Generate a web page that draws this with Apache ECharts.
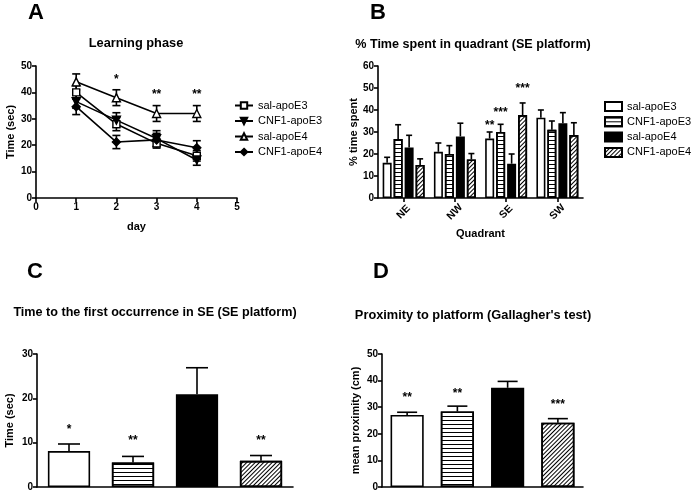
<!DOCTYPE html>
<html><head><meta charset="utf-8">
<script src="https://cdn.jsdelivr.net/npm/echarts@6/dist/echarts.min.js"></script>
<style>html,body{margin:0;padding:0;background:#fff}#c{width:692px;height:494px}</style>
</head><body><div id="c"></div>
<script>
// ---------- DATA ----------
const groups = ['sal-apoE3', 'CNF1-apoE3', 'sal-apoE4', 'CNF1-apoE4'];
// Panel A: Learning phase
const days = [1, 2, 3, 4];
const aSalE3 = [40, 28, 20.7, 16];
const aSalE3Err = [2.5, 2.5, 1.8, 2];
const aCnfE3 = [36.5, 29.5, 22.5, 14.4];
const aCnfE3Err = [2.5, 2.8, 3, 2];
const aSalE4 = [44, 38, 32, 32];
const aSalE4Err = [3, 3, 3, 3];
const aCnfE4 = [34.6, 21.2, 22, 19];
const aCnfE4Err = [3, 2.5, 2.5, 2.7];
const aStarDay = [2, 3, 4];
const aStarText = ['*', '**', '**'];
const aStarY = [44.7, 39.3, 39.3];
// Panel B: % time spent in quadrant
const quadrants = ['NE', 'NW', 'SE', 'SW'];
const bSalE3 = [16, 21, 27, 36.5];
const bSalE3Err = [2.5, 4, 3, 3.5];
const bCnfE3 = [26.8, 20, 30, 31];
const bCnfE3Err = [6.5, 3.8, 3.5, 4];
const bSalE4 = [23, 28, 15.6, 34];
const bSalE4Err = [5.5, 6, 4.4, 4.8];
const bCnfE4 = [15, 17.5, 37.7, 28.6];
const bCnfE4Err = [2.8, 2.7, 5.5, 5.6];
const bStarQuad = [2, 2, 2];
const bStarGroup = [0, 1, 3];
const bStarText = ['**', '***', '***'];
const bStarY = [32.7, 39, 49.5];
// Panel C: time to first occurrence
const cValues = [8.1, 5.5, 20.9, 5.9];
const cErr = [1.6, 1.4, 6, 1.2];
const cStarText = ['*', '**', '', '**'];
const cStarY = [12.9, 10.4, 0, 10.5];
// Panel D: proximity
const dValues = [27.1, 28.4, 37.3, 24.2];
const dErr = [1.0, 2.0, 2.4, 1.5];
const dStarText = ['**', '**', '', '***'];
const dStarY = [33.4, 35, 0, 31];

// ---------- STYLE ----------
const FF = '"Liberation Sans", Arial, sans-serif';
const K = '#000';
const stripeDecal = { symbol: 'rect', symbolSize: 1, dashArrayX: [1, 0], dashArrayY: [1, 2.2], rotation: 0, color: '#000' };
const hatchDecal = { symbol: 'rect', symbolSize: 1, dashArrayX: [1, 0], dashArrayY: [1, 1.4], rotation: -Math.PI / 4, color: '#000' };
const barStyles = [
  { color: '#fff', borderColor: K, borderWidth: 1.6 },
  { color: '#fff', borderColor: K, borderWidth: 1.6, decal: stripeDecal },
  { color: '#000', borderColor: K, borderWidth: 1.6 },
  { color: '#fff', borderColor: K, borderWidth: 1.6, decal: hatchDecal }
];

function yAxis(gi, max, name, gap) {
  return {
    type: 'value', gridIndex: gi, min: 0, max: max, interval: 10, name: name,
    nameLocation: 'middle', nameGap: gap,
    nameTextStyle: { fontFamily: FF, fontWeight: 'bold', fontSize: 11, color: K },
    axisLine: { show: true, lineStyle: { color: K, width: 1.6 } },
    axisTick: { show: true, length: 4, lineStyle: { color: K, width: 1.6 } },
    axisLabel: { fontFamily: FF, fontWeight: 'bold', fontSize: 10, color: K, margin: 4 },
    splitLine: { show: false }
  };
}

function errRender(capHalf, step, both) {
  return function (params, api) {
    const cat = api.value(0), v = api.value(1), e = api.value(2), g = api.value(3);
    const p = api.coord([cat, v]);
    const t = api.coord([cat, v + e]);
    const x = p[0] + (step ? (g - 1.5) * step : 0);
    const b = both ? api.coord([cat, v - e])[1] : p[1];
    const st = { stroke: K, lineWidth: 1.6 };
    const ch = [
      { type: 'line', shape: { x1: x, y1: b, x2: x, y2: t[1] }, style: st },
      { type: 'line', shape: { x1: x - capHalf, y1: t[1], x2: x + capHalf, y2: t[1] }, style: st }
    ];
    if (both) ch.push({ type: 'line', shape: { x1: x - capHalf, y1: b, x2: x + capHalf, y2: b }, style: st });
    return { type: 'group', children: ch };
  };
}
function starRender(step) {
  return function (params, api) {
    const cat = api.value(0), y = api.value(1), g = api.value(2);
    const p = api.coord([cat, y]);
    const x = p[0] + (step ? (g - 1.5) * step : 0);
    const txt = api.value(3);
    return { type: 'text', x: x, y: p[1], style: { text: String(txt), textAlign: 'center', textVerticalAlign: 'middle', font: 'bold 12px ' + FF, fill: K } };
  };
}

const series = [];
// A lines
const aSets = [
  [aSalE3, aSalE3Err, 'rect', 0, '#fff'],
  [aCnfE3, aCnfE3Err, 'triangle', 180, '#000'],
  [aSalE4, aSalE4Err, 'triangle', 0, '#fff'],
  [aCnfE4, aCnfE4Err, 'diamond', 0, '#000']
];
aSets.forEach(function (s, i) {
  series.push({
    type: 'line', name: groups[i], xAxisIndex: 0, yAxisIndex: 0,
    data: days.map(function (d, j) { return [d, s[0][j]]; }),
    symbol: s[2], symbolRotate: s[3], symbolSize: s[2] === 'rect' ? 7 : 8,
    lineStyle: { color: K, width: 1.6 },
    itemStyle: { color: s[4], borderColor: K, borderWidth: 1.4 },
    z: 3, animation: false
  });
  series.push({
    type: 'custom', xAxisIndex: 0, yAxisIndex: 0, renderItem: errRender(4, 0, true),
    data: days.map(function (d, j) { return [d, s[0][j], s[1][j], 0]; }), z: 2, animation: false
  });
});
series.push({
  type: 'custom', xAxisIndex: 0, yAxisIndex: 0, renderItem: starRender(0),
  data: aStarDay.map(function (d, j) { return [d, aStarY[j], 0, aStarText[j]]; }), animation: false
});
// B bars
const bSets = [[bSalE3, bSalE3Err], [bCnfE3, bCnfE3Err], [bSalE4, bSalE4Err], [bCnfE4, bCnfE4Err]];
bSets.forEach(function (s, i) {
  series.push({
    type: 'bar', name: groups[i] + ' ', xAxisIndex: 1, yAxisIndex: 1, data: s[0],
    barWidth: 9, barGap: '22%', itemStyle: barStyles[i], animation: false
  });
});
const bErrData = [];
bSets.forEach(function (s, i) { quadrants.forEach(function (q, j) { bErrData.push([j, s[0][j], s[1][j], i]); }); });
series.push({ type: 'custom', xAxisIndex: 1, yAxisIndex: 1, renderItem: errRender(3, 11, false), data: bErrData, animation: false });
series.push({
  type: 'custom', xAxisIndex: 1, yAxisIndex: 1, renderItem: starRender(11),
  data: bStarQuad.map(function (q, j) { return [q, bStarY[j], bStarGroup[j], bStarText[j]]; }), animation: false
});
// C and D bars
function singleBars(ax, vals, errs, cap, stars, starY) {
  series.push({
    type: 'bar', xAxisIndex: ax, yAxisIndex: ax, barWidth: '66%',
    data: vals.map(function (v, i) { return { value: v, itemStyle: barStyles[i] }; }), animation: false
  });
  series.push({
    type: 'custom', xAxisIndex: ax, yAxisIndex: ax, renderItem: errRender(cap, 0, false),
    data: vals.map(function (v, i) { return [i, v, errs[i], 0]; }), animation: false
  });
  series.push({
    type: 'custom', xAxisIndex: ax, yAxisIndex: ax, renderItem: starRender(0),
    data: stars.map(function (t, i) { return [i, starY[i], 0, t]; }), animation: false
  });
}
singleBars(2, cValues, cErr, 11, cStarText, cStarY);
singleBars(3, dValues, dErr, 10, dStarText, dStarY);

function txt(t, x, y, size) {
  return { type: 'text', x: x, y: y, style: { text: t, textAlign: 'center', textVerticalAlign: 'middle', font: 'bold ' + size + 'px ' + FF, fill: K } };
}

const catAxisBase = {
  axisLine: { lineStyle: { color: K, width: 1.6 } },
  splitLine: { show: false }
};

const option = {
  animation: false,
  backgroundColor: '#fff',
  grid: [
    { left: 36, top: 66, width: 201, height: 132 },
    { left: 378, top: 66, width: 205, height: 132 },
    { left: 37, top: 354, width: 256, height: 133 },
    { left: 382, top: 354, width: 201, height: 133 }
  ],
  xAxis: [
    {
      type: 'value', gridIndex: 0, min: 0, max: 5, interval: 1, name: 'day', nameLocation: 'middle', nameGap: 23,
      nameTextStyle: { fontFamily: FF, fontWeight: 'bold', fontSize: 11, color: K },
      axisLine: { show: true, lineStyle: { color: K, width: 1.6 } },
      axisTick: { show: true, length: 4, lineStyle: { color: K, width: 1.6 } },
      axisLabel: { fontFamily: FF, fontWeight: 'bold', fontSize: 10, color: K, margin: 4 },
      splitLine: { show: false }
    },
    Object.assign({
      type: 'category', gridIndex: 1, data: quadrants, name: 'Quadrant', nameLocation: 'middle', nameGap: 30,
      nameTextStyle: { fontFamily: FF, fontWeight: 'bold', fontSize: 11, color: K },
      axisTick: { show: true, alignWithLabel: true, length: 4, lineStyle: { color: K, width: 1.6 } },
      axisLabel: { rotate: 45, align: 'center', verticalAlign: 'middle', fontFamily: FF, fontWeight: 'bold', fontSize: 10.5, color: K, margin: 14 }
    }, catAxisBase),
    Object.assign({ type: 'category', gridIndex: 2, data: groups, axisTick: { show: false }, axisLabel: { show: false } }, catAxisBase),
    Object.assign({ type: 'category', gridIndex: 3, data: groups, axisTick: { show: false }, axisLabel: { show: false } }, catAxisBase)
  ],
  yAxis: [
    yAxis(0, 50, 'Time (sec)', 20),
    yAxis(1, 60, '% time spent', 18),
    yAxis(2, 30, 'Time (sec)', 22),
    yAxis(3, 50, 'mean proximity (cm)', 21)
  ],
  legend: [
    {
      data: groups, orient: 'vertical', left: 229, top: 95, itemWidth: 18, itemHeight: 8, itemGap: 4.5,
      textStyle: { fontFamily: FF, fontSize: 11, color: K }, selectedMode: false
    },
    {
      data: groups.map(function (g) { return { name: g + ' ', icon: 'rect' }; }), orient: 'vertical', left: 599, top: 96,
      itemWidth: 17, itemHeight: 9, itemGap: 4.3,
      formatter: function (n) { return n.trim(); },
      textStyle: { fontFamily: FF, fontSize: 11, color: K }, selectedMode: false
    }
  ],
  graphic: [
    txt('A', 36, 13, 22), txt('B', 378, 13, 22), txt('C', 35, 272, 22), txt('D', 381, 272, 22),
    txt('Learning phase', 136, 43, 12.8),
    txt('% Time spent in quadrant (SE platform)', 473, 45, 12.6),
    txt('Time to the first occurrence in SE (SE platform)', 155, 313, 12.6),
    txt("Proximity to platform (Gallagher's test)", 473, 315, 12.8)
  ],
  series: series
};
const chart = echarts.init(document.getElementById('c'), null, { renderer: 'canvas' });
chart.setOption(option);
</script></body></html>
